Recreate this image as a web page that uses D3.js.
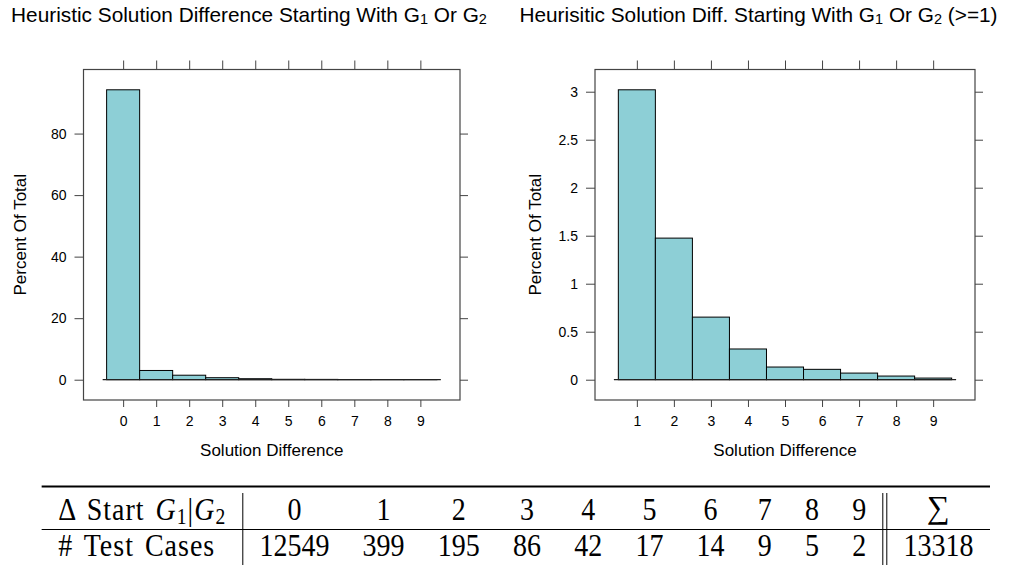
<!DOCTYPE html>
<html>
<head>
<meta charset="utf-8">
<script src="https://cdn.jsdelivr.net/npm/d3@7"></script>
<style>
  html, body { margin: 0; padding: 0; background: #fff; }
  svg { display: block; }
</style>
</head>
<body>
<svg id="chart" width="1010" height="570"></svg>
<script>
// ---------------- data ----------------
const diffAll = [0, 1, 2, 3, 4, 5, 6, 7, 8, 9];
const pctAll = [94.23, 3.0, 1.46, 0.65, 0.32, 0.13, 0.105, 0.068, 0.038, 0.015];
const diffGe1 = [1, 2, 3, 4, 5, 6, 7, 8, 9];
const pctGe1 = [3.02, 1.475, 0.652, 0.32, 0.132, 0.108, 0.069, 0.038, 0.017];
const yTicksAll = [0, 20, 40, 60, 80];
const yTicksGe1 = [0, 0.5, 1, 1.5, 2, 2.5, 3];
const titleAll = ["Heuristic Solution Difference Starting With G", "1", " Or G", "2", ""];
const titleGe1 = ["Heurisitic Solution Diff. Starting With G", "1", " Or G", "2", " (>=1)"];
const xLabel = "Solution Difference";
const yLabel = "Percent Of Total";
const tableCols = ["0", "1", "2", "3", "4", "5", "6", "7", "8", "9"];
const testCases = [12549, 399, 195, 86, 42, 17, 14, 9, 5, 2];
const totalCases = 13318;

// ---------------- drawing ----------------
const svg = d3.select("#chart");
const SANS = "'Liberation Sans', Arial, Helvetica, sans-serif";
const SERIF = "'Liberation Serif', 'Times New Roman', serif";
const FILL = "#8dcfd6";
const AX = "#444";

function title(parts, cx) {
  const t = svg.append("text")
    .attr("x", cx).attr("y", 22)
    .attr("text-anchor", "middle")
    .attr("font-family", SANS).attr("font-size", 20.8).attr("fill", "#000");
  t.append("tspan").text(parts[0]);
  t.append("tspan").attr("font-size", 14.5).attr("dy", 2).text(parts[1]);
  t.append("tspan").attr("dy", -2).text(parts[2]);
  t.append("tspan").attr("font-size", 14.5).attr("dy", 2).text(parts[3]);
  if (parts[4]) t.append("tspan").attr("dy", -2).text(parts[4]);
}

function panel(cfg) {
  const { x0, x1, y0, y1, cats, vals, yTicks } = cfg;
  const lo = d3.min(cats) - 0.5, hi = d3.max(cats) + 0.5;
  const padX = 0.07 * (hi - lo);
  const x = d3.scaleLinear().domain([lo - padX, hi + padX]).range([x0, x1]);
  const vmax = d3.max(vals);
  const y = d3.scaleLinear().domain([-0.07 * vmax, vmax * 1.07]).range([y1, y0]);
  const g = svg.append("g");

  // bars
  g.selectAll("rect.bar").data(cats).join("rect")
    .attr("class", "bar")
    .attr("x", d => x(d - 0.5))
    .attr("width", d => x(d + 0.5) - x(d - 0.5))
    .attr("y", (d, i) => y(vals[i]))
    .attr("height", (d, i) => y(0) - y(vals[i]))
    .attr("fill", FILL).attr("stroke", "#000").attr("stroke-width", 1);

  // zero baseline
  g.append("line")
    .attr("x1", x(lo - 0.12)).attr("x2", x(hi + 0.12))
    .attr("y1", y(0)).attr("y2", y(0))
    .attr("stroke", "#222").attr("stroke-width", 1.2);

  const styleAxis = sel => {
    sel.select(".domain").remove();
    sel.selectAll(".tick line").attr("stroke", AX);
    sel.selectAll(".tick text").attr("fill", "#000");
    sel.attr("font-family", SANS).attr("font-size", 14);
  };
  g.append("g").attr("transform", `translate(${x0},0)`)
    .call(d3.axisLeft(y).tickValues(yTicks).tickFormat(d => String(d)).tickSize(9).tickPadding(8))
    .call(styleAxis);
  g.append("g").attr("transform", `translate(${x1},0)`)
    .call(d3.axisRight(y).tickValues(yTicks).tickFormat("").tickSize(8))
    .call(styleAxis);
  g.append("g").attr("transform", `translate(0,${y1})`)
    .call(d3.axisBottom(x).tickValues(cats).tickFormat(d => String(d)).tickSize(7).tickPadding(9))
    .call(styleAxis);
  g.append("g").attr("transform", `translate(0,${y0})`)
    .call(d3.axisTop(x).tickValues(cats).tickFormat("").tickSize(9))
    .call(styleAxis);

  // box
  g.append("rect").attr("x", x0).attr("y", y0)
    .attr("width", x1 - x0).attr("height", y1 - y0)
    .attr("fill", "none").attr("stroke", AX).attr("stroke-width", 1.2);

  // labels
  g.append("text").attr("x", (x0 + x1) / 2).attr("y", 456)
    .attr("text-anchor", "middle").attr("font-family", SANS).attr("font-size", 17)
    .text(xLabel);
  g.append("text")
    .attr("transform", `translate(${cfg.ylabX},${(y0 + y1) / 2}) rotate(-90)`)
    .attr("text-anchor", "middle").attr("font-family", SANS).attr("font-size", 17)
    .text(yLabel);
}

title(titleAll, 249);
title(titleGe1, 758.5);

panel({ x0: 83.5, x1: 460, y0: 69.5, y1: 400, cats: diffAll, vals: pctAll, yTicks: yTicksAll, ylabX: 26 });
panel({ x0: 595, x1: 975, y0: 69.5, y1: 400, cats: diffGe1, vals: pctGe1, yTicks: yTicksGe1, ylabX: 541 });

// ---------------- table ----------------
const FS = 28, STRETCH = 1.15, SEP = 16.6, RIGHT = 990, RULEGAP = 4;
const row1Y = 519.5, row2Y = 556, topRuleY = 486.5, midRuleY = 529.5, vTop = 493, vBot = 565;
const tg = svg.append("g").attr("font-family", SERIF).attr("font-size", FS).attr("fill", "#000");

function measure(str, size) {
  const t = tg.append("text").attr("font-size", size || FS).text(str);
  const w = t.node().getComputedTextLength();
  t.remove();
  return w;
}
function sText(sel, xx, yy, anchor) {
  return sel.append("text")
    .attr("transform", `translate(${xx},${yy}) scale(1,${STRETCH})`)
    .attr("text-anchor", anchor);
}

// label column contents (built, measured)
function label1(xx) {
  const t = sText(tg, xx, row1Y, "start").attr("letter-spacing", 1).attr("word-spacing", 3);
  t.append("tspan").text("\u0394 Start ");
  t.append("tspan").attr("font-style", "italic").text("G");
  t.append("tspan").attr("font-size", FS * 0.7).attr("dy", 4).text("1");
  t.append("tspan").attr("dy", -4).text("|");
  t.append("tspan").attr("font-style", "italic").text("G");
  t.append("tspan").attr("font-size", FS * 0.7).attr("dy", 4).text("2");
  return t;
}
function label2(xx) {
  return sText(tg, xx, row2Y, "start").attr("letter-spacing", 1).attr("word-spacing", 3).text("# Test Cases");
}
const l1 = label1(0), l2 = label2(0);
const wLabel = Math.max(l1.node().getBBox().width, l2.node().getBBox().width);
l1.remove(); l2.remove();

const sumFS = 32;
const wSum = Math.max(measure("\u2211", sumFS), measure(String(totalCases)));
const colW = tableCols.map((c, i) => Math.max(measure(c), measure(String(testCases[i]))));

// layout from the right edge leftwards
let edge = RIGHT;
const sumCx = edge - SEP - wSum / 2;
edge = edge - 2 * SEP - wSum;
const dblA = edge, dblB = edge - RULEGAP;
edge = dblB;
const colCx = new Array(tableCols.length);
for (let i = tableCols.length - 1; i >= 0; i--) {
  colCx[i] = edge - SEP - colW[i] / 2;
  edge = edge - 2 * SEP - colW[i];
}
const vLineX = edge;
const labelX = edge - SEP - wLabel;
const leftEdge = edge - 2 * SEP - wLabel;

label1(labelX);
label2(labelX);
tableCols.forEach((c, i) => {
  sText(tg, colCx[i], row1Y, "middle").text(c);
  sText(tg, colCx[i], row2Y, "middle").text(String(testCases[i]));
});
tg.append("text").attr("x", sumCx).attr("y", row1Y - 2)
  .attr("text-anchor", "middle").attr("font-size", sumFS).text("\u2211");
sText(tg, sumCx, row2Y, "middle").text(String(totalCases));

// rules
tg.append("line").attr("x1", leftEdge).attr("x2", RIGHT).attr("y1", topRuleY).attr("y2", topRuleY)
  .attr("stroke", "#000").attr("stroke-width", 2);
tg.append("line").attr("x1", leftEdge).attr("x2", RIGHT).attr("y1", midRuleY).attr("y2", midRuleY)
  .attr("stroke", "#000").attr("stroke-width", 1);
[vLineX, dblA, dblB].forEach(xx => {
  tg.append("line").attr("x1", xx).attr("x2", xx).attr("y1", vTop).attr("y2", vBot)
    .attr("stroke", "#000").attr("stroke-width", 1);
});
</script>
</body>
</html>
